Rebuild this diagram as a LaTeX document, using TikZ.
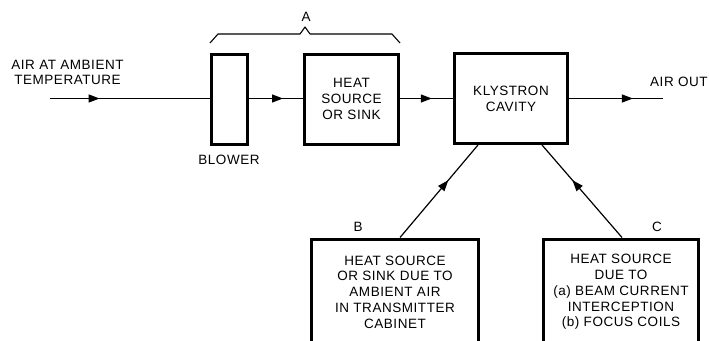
\documentclass[tikz,border=0pt]{standalone}
\usepackage{fontspec}
\setmainfont{Liberation Sans}[LetterSpace=4]
\usetikzlibrary{arrows.meta,decorations.markings,calc}
\tikzset{
  thickbox/.style={draw=black, line width=3pt, inner sep=0pt, align=center},
  lbl/.style={inner sep=0pt, align=center, font=\fontsize{13.5}{15.8}\selectfont},
  flow/.style={line width=1.2pt},
  midarrow/.style={flow, postaction={decorate}, decoration={markings,
      mark=at position #1 with {\arrow{Triangle[length=11pt,width=8pt]}}}}
}
\begin{document}
\begin{tikzpicture}[x=1pt,y=-1pt]
\useasboundingbox (0,0) rectangle (709,340);
\begin{scope}
\clip (0,0) rectangle (709,340);
% main boxes
\node[thickbox, minimum width=36pt, minimum height=90pt] (blower) at (229.5,99) {};
\node[thickbox, lbl, minimum width=94pt, minimum height=90pt] (heat) at (351.5,99) {HEAT\\SOURCE\\OR SINK};
\node[thickbox, lbl, minimum width=113pt, minimum height=90pt] (kly) at (511,98.5) {KLYSTRON\\CAVITY};
% lower boxes (cut by the page edge)
\node[thickbox, lbl, minimum width=167pt, minimum height=106pt, text depth=0pt] (bbox) at (395,292) {HEAT SOURCE\\OR SINK DUE TO\\AMBIENT AIR\\IN TRANSMITTER\\CABINET};
\node[thickbox, lbl, minimum width=155pt, minimum height=106pt] (cbox) at (621,292) {HEAT SOURCE\\DUE TO\\(a) BEAM CURRENT\\INTERCEPTION\\(b) FOCUS COILS};
\end{scope}
% free ends
\coordinate (in) at (50,98.5);
\coordinate (out) at (663,98.5);
% flow line
\draw[midarrow=0.31] (in) -- (blower.west |- in);
\draw[midarrow=0.63] (blower.east |- in) -- (heat.west |- in);
\draw[midarrow=0.6] (heat.east |- in) -- (kly.west |- in);
\draw[midarrow=0.68] (kly.east |- in) -- (out);
% diagonal arrows
\draw[midarrow=0.62] ([xshift=5pt]bbox.north) -- ([xshift=-33pt]kly.south);
\draw[midarrow=0.62] ([xshift=1pt]cbox.north) -- ([xshift=31pt]kly.south);
% brace A
\coordinate (br1) at (210,43);
\coordinate (br2) at (400,43);
\draw[line width=1.1pt, line join=round] (br1) -- (218,34) -- (300,34) -- (305,27) -- (310,34) -- (392,34) -- (br2);
% labels
\node[lbl] (labA) at (306,17) {A};
\node[lbl] (labB) at (358,227) {B};
\node[lbl] (labC) at (657,227) {C};
\node[lbl] (labin) at (67.5,72.5) {AIR AT AMBIENT\\TEMPERATURE};
\node[lbl] (labblow) at (229,160) {BLOWER};
\node[lbl, anchor=west] (labout) at (650,82) {AIR OUT};
\end{tikzpicture}
\end{document}
